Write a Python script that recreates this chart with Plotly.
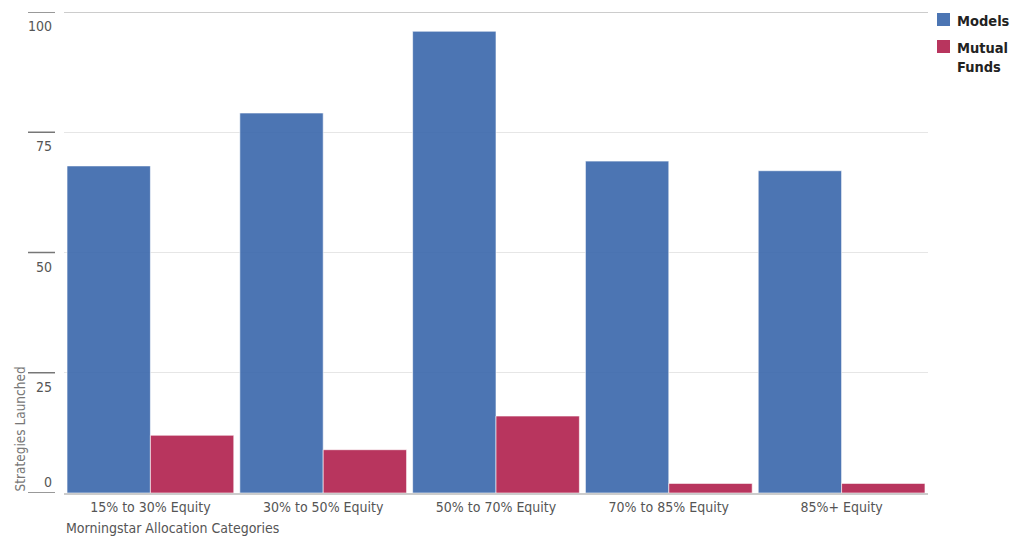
import plotly.graph_objects as go

categories = ["15% to 30% Equity", "30% to 50% Equity", "50% to 70% Equity",
              "70% to 85% Equity", "85%+ Equity"]
models = [68, 79, 96, 69, 67]
mutual_funds = [12, 9, 16, 2, 2]
y_ticks = [0, 25, 50, 75, 100]
y_tick_labels = ["0", "25", "50", "75", "100"]
series_names = ["Models", "Mutual<br>Funds"]

FONT = "Liberation Sans Narrow, DejaVu Sans Condensed, Roboto, sans-serif"
BLUE = "rgba(56, 102, 171, 0.9)"
RED = "rgba(174, 25, 72, 0.88)"
colors = [BLUE, RED]

fig = go.Figure()
for name, vals, col in zip(series_names, [models, mutual_funds], colors):
    fig.add_trace(go.Bar(name=name, x=categories, y=vals, showlegend=False,
                         marker=dict(color=col, line=dict(color="rgba(255,255,255,0.6)", width=1))))

annotations = []
shapes = []
for v, lab in zip(y_ticks, y_tick_labels):
    annotations.append(dict(x=-0.011, xref="paper", y=v, yref="y", text=lab,
                            showarrow=False, xanchor="right", yanchor="middle",
                            yshift=(11 if v == 0 else -14),
                            font=dict(family=FONT, size=14, color="#555555")))
    shapes.append(dict(type="line", xref="paper", yref="y", x0=-0.0417, x1=-0.0104,
                       y0=v, y1=v, line=dict(color="#777777", width=1.5)))

shapes.append(dict(type="line", xref="paper", yref="y", x0=0, x1=1, y0=100, y1=100,
                   line=dict(color="#9a9a9a", width=1)))

annotations.append(dict(x=-0.051, xref="paper", y=0, yref="y", text="Strategies Launched",
                        textangle=-90, showarrow=False, xanchor="center", yanchor="bottom",
                        font=dict(family=FONT, size=13.5, color="#777777")))
annotations.append(dict(x=0, xref="paper", y=0, yref="paper", yshift=-35,
                        text="Morningstar Allocation Categories", showarrow=False,
                        xanchor="left", yanchor="middle",
                        font=dict(family=FONT, size=14, color="#555555")))

# custom legend (container-relative pixel positions)
W, H = 1021, 538
legend_rows = [(13, 20), (40, 48)]  # (square top px, text first-line center px)
for name, col, (sq_top, txt_c) in zip(series_names, colors, legend_rows):
    shapes.append(dict(type="rect", xref="paper", yref="paper",
                       x0=(937 - 64) / 864, x1=(950 - 64) / 864,
                       y0=(493 - sq_top) / 481, y1=(493 - sq_top - 13) / 481,
                       fillcolor=col, line=dict(width=0)))
    annotations.append(dict(x=(955 - 64) / 864, xref="paper", y=(493 - sq_top + 2) / 481,
                            yref="paper", text="<b>" + name + "</b>", showarrow=False,
                            xanchor="left", yanchor="top", align="left",
                            font=dict(family=FONT, size=14.5, color="#222222")))

fig.update_layout(
    width=W, height=H,
    margin=dict(l=64, r=93, t=12, b=45, autoexpand=False),
    paper_bgcolor="white", plot_bgcolor="white",
    barmode="group", bargap=0.035, bargroupgap=0,
    font=dict(family=FONT, size=14, color="#555555"),
    xaxis=dict(showgrid=False, showline=True, linecolor="#cccccc", linewidth=1.5,
               ticks="", tickfont=dict(family=FONT, size=14, color="#555555")),
    yaxis=dict(range=[0, 100], tickvals=y_ticks, showticklabels=False,
               showgrid=True, gridcolor="#e6e6e6", gridwidth=1, zeroline=False),
    annotations=annotations, shapes=shapes,
    showlegend=False,
)

fig.write_html("out.html")
